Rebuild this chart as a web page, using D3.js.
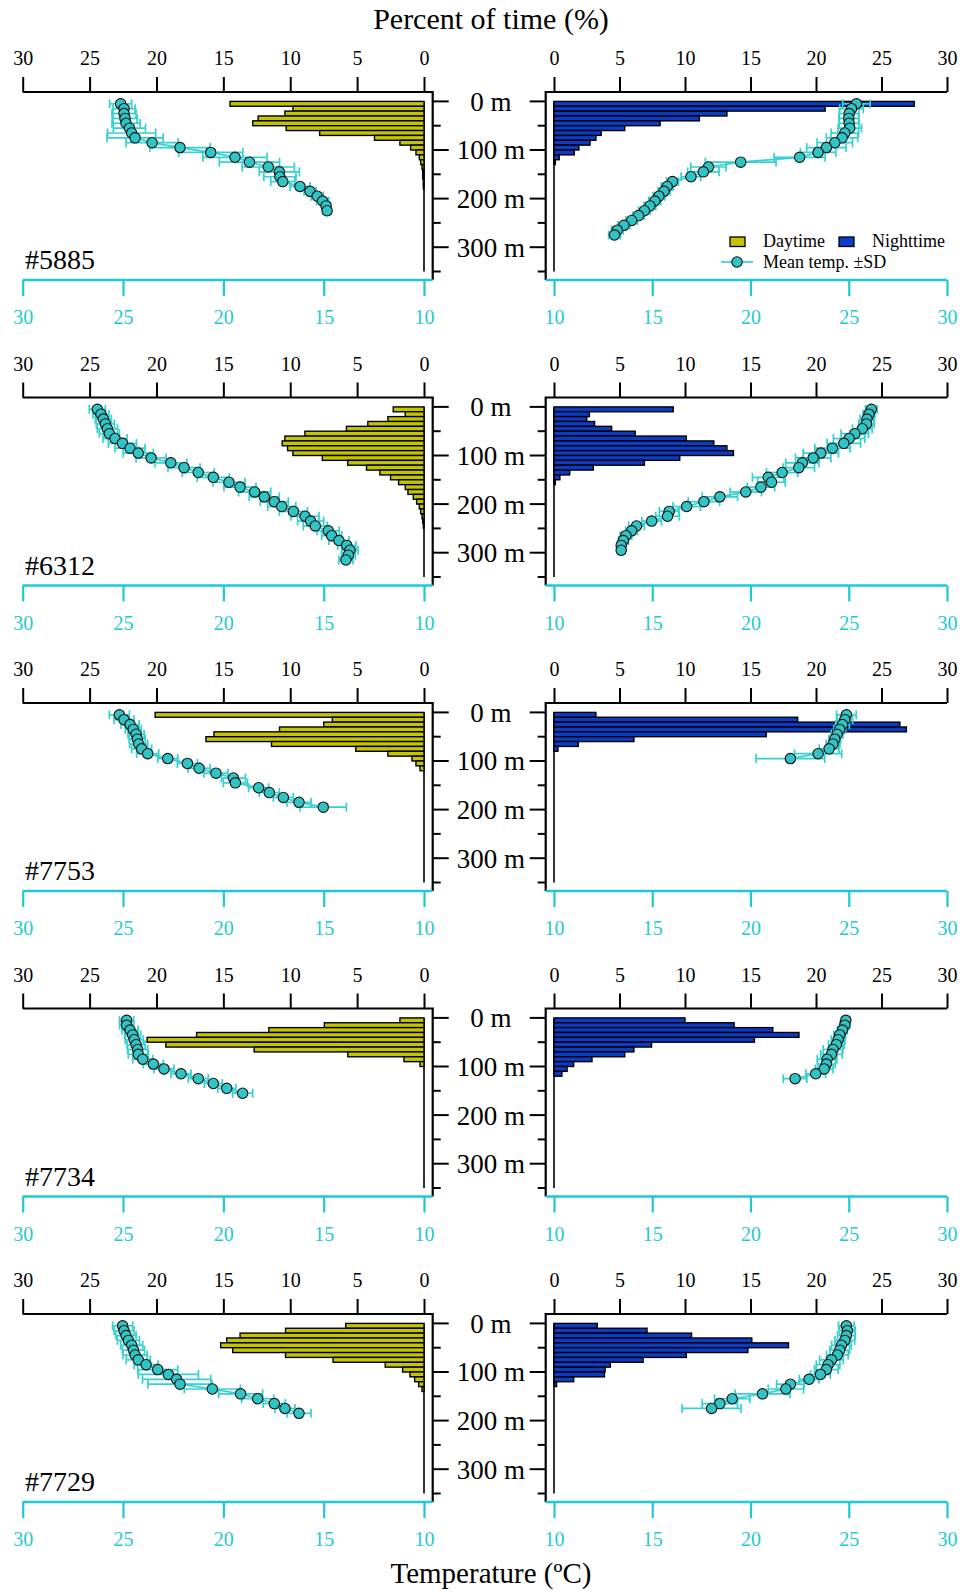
<!DOCTYPE html>
<html>
<head>
<meta charset="utf-8">
<script src="https://cdn.jsdelivr.net/npm/d3@7"></script>
<style>
  body { margin: 0; background: #fff; }
  text { font-family: "Liberation Serif", "Times New Roman", serif; }
</style>
</head>
<body>
<div id="chart"></div>
<script>
// tick values
var pctTicks = [0, 5, 10, 15, 20, 25, 30];
var tempTicks = [10, 15, 20, 25, 30];
var depthTicks = [0, 50, 100, 150, 200, 250, 300, 350];
var depthLabels = [0, 100, 200, 300];

// tag ids, one per row
var tags = ["#5885", "#6312", "#7753", "#7734", "#7729"];

// top of each 10 m depth bin, and the depth of each temperature point
var binTops = [0, 10, 20, 30, 40, 50, 60, 70, 80, 90, 100, 110, 120, 130, 140, 150, 160, 170, 180, 190, 200, 210, 220, 230, 240, 250, 260, 270, 280, 290, 300, 310, 320, 330, 340];
var pointDepths = [5, 15, 25, 35, 45, 55, 65, 75, 85, 95, 105, 115, 125, 135, 145, 155, 165, 175, 185, 195, 205, 215, 225, 235, 245, 255, 265, 275, 285, 295, 305, 315];

// percent of time per depth bin
var day5885 = [14.5, 9.8, 10.4, 12.4, 12.8, 10.3, 7.8, 3.7, 1.8, 1.0, 0.6, 0.35, 0.25, 0.15, 0.1, 0.1, 0.05, 0.05];
var night5885 = [27.5, 20.7, 13.2, 11.1, 8.1, 5.4, 3.6, 3.2, 2.75, 1.9, 1.55, 0.4, 0.1];
var day6312 = [2.3, 1.4, 2.7, 4.2, 5.8, 8.9, 10.4, 10.6, 10.2, 9.8, 7.6, 5.7, 4.3, 3.3, 2.5, 1.9, 1.4, 1.2, 0.8, 0.55, 0.35, 0.25, 0.15, 0.1, 0.05];
var night6312 = [9.1, 2.7, 2.5, 3.1, 4.4, 6.2, 10.1, 12.2, 13.2, 13.7, 9.6, 6.9, 3.0, 1.2, 0.45, 0.1];
var day7753 = [20.1, 6.85, 7.5, 10.8, 15.7, 16.3, 11.4, 5.1, 2.7, 0.9, 0.6, 0.3];
var night7753 = [3.2, 18.6, 26.4, 26.9, 16.2, 6.1, 1.85, 0.3];
var day7734 = [1.8, 7.45, 11.6, 17.0, 20.7, 19.3, 12.7, 5.7, 1.5, 0.3];
var night7734 = [10.0, 13.75, 16.7, 18.7, 15.3, 7.45, 6.1, 5.4, 2.9, 1.5, 1.0, 0.6];
var day7729 = [5.85, 10.35, 13.75, 14.75, 15.2, 14.3, 10.35, 6.8, 2.9, 1.6, 1.05, 0.7, 0.4, 0.15];
var night7729 = [3.3, 7.1, 10.5, 15.1, 17.9, 14.8, 10.1, 6.8, 4.3, 3.9, 3.85, 1.5, 0.2];

// mean temperature per depth point and its SD
var dayTemp5885 = [25.12, 24.95, 24.95, 24.9, 24.85, 24.68, 24.57, 24.4, 23.55, 22.16, 20.63, 19.42, 18.7, 17.76, 17.21, 17.18, 17.04, 16.18, 15.68, 15.32, 15.05, 14.88, 14.83];
var daySd5885 = [0.55, 0.55, 0.6, 0.6, 0.7, 0.8, 1.2, 1.4, 1.3, 1.5, 1.6, 1.6, 1.5, 1.3, 1.0, 0.8, 0.6, 0.5, 0.3, 0.3, 0.3, 0.2, 0.2];
var nightTemp5885 = [25.39, 25.14, 25.02, 25.0, 25.02, 25.05, 24.8, 24.66, 24.29, 23.86, 23.44, 22.5, 19.5, 17.86, 17.6, 16.97, 16.03, 15.76, 15.6, 15.34, 15.13, 14.88, 14.6, 14.3, 13.95, 13.56, 13.22, 13.08];
var nightSd5885 = [0.7, 0.6, 0.5, 0.5, 0.5, 0.6, 0.7, 0.8, 0.9, 1.0, 0.9, 1.3, 1.8, 0.9, 0.8, 0.5, 0.3, 0.3, 0.3, 0.3, 0.3, 0.3, 0.3, 0.3, 0.3, 0.3, 0.3, 0.3];
var dayTemp6312 = [26.28, 26.1, 25.98, 25.88, 25.78, 25.68, 25.4, 25.03, 24.65, 24.24, 23.6, 22.62, 21.96, 21.25, 20.5, 19.72, 19.17, 18.44, 17.96, 17.46, 17.09, 16.51, 15.93, 15.65, 15.42, 14.77, 14.6, 14.24, 13.85, 13.69, 13.77, 13.89];
var daySd6312 = [0.4, 0.4, 0.4, 0.45, 0.5, 0.5, 0.6, 0.7, 0.75, 0.75, 0.75, 0.8, 0.8, 0.8, 0.8, 0.8, 0.8, 0.8, 0.75, 0.7, 0.7, 0.7, 0.7, 0.65, 0.6, 0.55, 0.5, 0.5, 0.45, 0.4, 0.35, 0.35];
var nightTemp6312 = [26.15, 26.03, 25.93, 25.9, 25.69, 25.31, 25.02, 24.75, 24.17, 23.58, 23.19, 22.64, 22.46, 21.61, 20.9, 21.07, 20.53, 19.76, 18.44, 17.63, 16.75, 15.86, 15.78, 14.97, 14.2, 13.95, 13.66, 13.53, 13.42, 13.42];
var nightSd6312 = [0.3, 0.3, 0.35, 0.4, 0.5, 0.7, 0.8, 0.85, 0.9, 0.9, 0.9, 0.85, 0.8, 0.8, 0.8, 0.7, 0.7, 0.8, 0.9, 0.8, 0.7, 0.5, 0.6, 0.5, 0.4, 0.3, 0.3, 0.25, 0.2, 0.2];
var dayTemp7753 = [25.18, 24.95, 24.65, 24.49, 24.35, 24.29, 24.22, 24.07, 23.77, 22.77, 21.79, 21.21, 20.37, 19.5, 19.4, 18.24, 17.71, 17.01, 16.23, 15.02];
var daySd7753 = [0.5, 0.5, 0.45, 0.4, 0.4, 0.4, 0.45, 0.5, 0.55, 0.5, 0.5, 0.55, 0.6, 0.6, 0.6, 0.5, 0.5, 0.5, 0.6, 1.15];
var nightTemp7753 = [24.88, 24.8, 24.68, 24.54, 24.41, 24.29, 24.2, 24.0, 23.44, 22.03];
var nightSd7753 = [0.5, 0.4, 0.35, 0.3, 0.3, 0.3, 0.35, 0.5, 1.2, 1.75];
var dayTemp7734 = [24.82, 24.82, 24.65, 24.52, 24.44, 24.35, 24.27, 24.24, 24.02, 23.49, 22.96, 22.11, 21.25, 20.5, 19.83, 19.04];
var daySd7734 = [0.35, 0.35, 0.4, 0.4, 0.45, 0.45, 0.5, 0.5, 0.5, 0.5, 0.5, 0.5, 0.5, 0.45, 0.45, 0.5];
var nightTemp7734 = [24.85, 24.8, 24.68, 24.54, 24.46, 24.37, 24.2, 24.12, 23.9, 23.86, 23.75, 23.32, 22.27];
var nightSd7734 = [0.2, 0.25, 0.25, 0.3, 0.35, 0.4, 0.5, 0.55, 0.5, 0.45, 0.45, 0.5, 0.6];
var dayTemp7729 = [25.02, 24.95, 24.85, 24.73, 24.57, 24.48, 24.4, 24.24, 23.85, 23.27, 22.74, 22.33, 22.16, 20.55, 19.14, 18.29, 17.46, 16.93, 16.23];
var daySd7729 = [0.5, 0.5, 0.5, 0.55, 0.55, 0.55, 0.6, 0.6, 0.6, 1.0, 1.5, 1.7, 1.6, 1.4, 1.1, 0.8, 0.55, 0.5, 0.6];
var nightTemp7729 = [24.88, 24.93, 24.88, 24.8, 24.63, 24.54, 24.42, 24.12, 23.95, 23.86, 23.56, 22.98, 22.03, 21.8, 20.61, 19.07, 18.44, 18.02];
var nightSd7729 = [0.4, 0.4, 0.45, 0.5, 0.5, 0.5, 0.55, 0.6, 0.6, 0.6, 0.5, 0.5, 0.7, 0.9, 1.4, 0.9, 0.9, 1.5];

// group the arrays per row
var dayBars = [day5885, day6312, day7753, day7734, day7729];
var nightBars = [night5885, night6312, night7753, night7734, night7729];
var dayTemps = [dayTemp5885, dayTemp6312, dayTemp7753, dayTemp7734, dayTemp7729];
var daySds = [daySd5885, daySd6312, daySd7753, daySd7734, daySd7729];
var nightTemps = [nightTemp5885, nightTemp6312, nightTemp7753, nightTemp7734, nightTemp7729];
var nightSds = [nightSd5885, nightSd6312, nightSd7753, nightSd7734, nightSd7729];

// layout
var w = 963;
var h = 1596;
var rowTop = 92;
var rowStep = 305.5;
var frameH = 188;
var leftRange = [424, 22.7];   // value 0 % / 10 C  ->  30
var rightRange = [554, 947];
var leftFrameX = 432.7;
var rightFrameX = 545.7;
var midX = 491;

// colors
var dayColor = "#c4c400";
var nightColor = "#0b3cc6";
var cyan = "#1fc9d2";
var pointFill = "#30c4c4";
var errColor = "#36d0d0";

var svg = d3.select("#chart")
    .append("svg")
    .attr("width", w)
    .attr("height", h);

// titles
svg.append("text")
    .attr("x", midX)
    .attr("y", 29)
    .attr("text-anchor", "middle")
    .style("font-size", "30px")
    .text("Percent of time (%)");

svg.append("text")
    .attr("x", midX)
    .attr("y", 1583)
    .attr("text-anchor", "middle")
    .style("font-size", "29px")
    .text("Temperature (ºC)");

tags.forEach(function(tag, r) {
    drawRow(r);
});

drawLegend(rowTop);

function drawRow(r) {
    var top = rowTop + r * rowStep;
    var g = svg.append("g");

    var y = d3.scaleLinear().domain([0, 350]).range([top + 9.4, top + 179.5]);

    var panels = [
        { side: "left", range: leftRange, bars: dayBars[r], temps: dayTemps[r], sds: daySds[r], color: dayColor, frameX: leftFrameX },
        { side: "right", range: rightRange, bars: nightBars[r], temps: nightTemps[r], sds: nightSds[r], color: nightColor, frameX: rightFrameX }
    ];

    panels.forEach(function(p) {
        var pct = d3.scaleLinear().domain([0, 30]).range(p.range);
        var temp = d3.scaleLinear().domain([10, 30]).range(p.range);
        var farX = p.range[1];

        // percent axis on top
        var topAxis = g.append("g")
            .attr("transform", `translate(0,${top})`)
            .call(d3.axisTop(pct).tickValues(pctTicks).tickSize(15).tickSizeOuter(0).tickPadding(12));
        topAxis.select(".domain").remove();
        topAxis.selectAll("line").attr("stroke", "#000").attr("stroke-width", 2);
        topAxis.selectAll("text")
            .attr("fill", "#000")
            .style("font-size", "20px")
            .style("font-family", "'Liberation Serif', serif");

        // temperature axis at bottom
        var botAxis = g.append("g")
            .attr("transform", `translate(0,${top + frameH})`)
            .call(d3.axisBottom(temp).tickValues(tempTicks).tickSize(16).tickSizeOuter(0).tickPadding(14));
        botAxis.select(".domain").remove();
        botAxis.selectAll("line").attr("stroke", cyan).attr("stroke-width", 2.2);
        botAxis.selectAll("text")
            .attr("fill", cyan)
            .style("font-size", "20px")
            .style("font-family", "'Liberation Serif', serif");

        // frame: black top and inner side, cyan bottom
        g.append("path")
            .attr("d", `M${farX},${top}H${p.frameX}V${top + frameH}`)
            .attr("fill", "none")
            .attr("stroke", "#000")
            .attr("stroke-width", 2.2);
        g.append("line")
            .attr("x1", farX).attr("x2", p.frameX)
            .attr("y1", top + frameH).attr("y2", top + frameH)
            .attr("stroke", cyan)
            .attr("stroke-width", 2.6);

        // depth ticks on the inner frame side
        var dir = p.side === "left" ? 1 : -1;
        g.selectAll(null)
            .data(depthTicks)
            .enter()
            .append("line")
            .attr("x1", p.frameX)
            .attr("x2", d => p.frameX + dir * (d % 100 === 0 ? 16 : 8))
            .attr("y1", d => y(d))
            .attr("y2", d => y(d))
            .attr("stroke", "#000")
            .attr("stroke-width", 2);

        // zero line of the histogram
        g.append("line")
            .attr("x1", pct(0)).attr("x2", pct(0))
            .attr("y1", y(0)).attr("y2", y(350))
            .attr("stroke", "#000")
            .attr("stroke-width", 1.6);

        // histogram bars
        g.selectAll(null)
            .data(p.bars)
            .enter()
            .append("rect")
            .attr("x", d => Math.min(pct(0), pct(d)))
            .attr("width", d => Math.abs(pct(d) - pct(0)))
            .attr("y", (d, i) => y(binTops[i]))
            .attr("height", (d, i) => y(binTops[i] + 10) - y(binTops[i]))
            .attr("fill", p.color)
            .attr("stroke", "#000")
            .attr("stroke-width", 1.4);

        // temperature profile
        var pts = p.temps.map((t, i) => ({ t: t, sd: p.sds[i], d: pointDepths[i] }));

        var err = g.append("g").attr("stroke", errColor).attr("stroke-width", 1.7);
        err.selectAll(null)
            .data(pts)
            .enter()
            .append("line")
            .attr("x1", d => temp(d.t - d.sd))
            .attr("x2", d => temp(d.t + d.sd))
            .attr("y1", d => y(d.d))
            .attr("y2", d => y(d.d));
        [-1, 1].forEach(function(s) {
            err.selectAll(null)
                .data(pts)
                .enter()
                .append("line")
                .attr("x1", d => temp(d.t + s * d.sd))
                .attr("x2", d => temp(d.t + s * d.sd))
                .attr("y1", d => y(d.d) - 4.5)
                .attr("y2", d => y(d.d) + 4.5);
        });

        g.append("path")
            .datum(pts)
            .attr("fill", "none")
            .attr("stroke", errColor)
            .attr("stroke-width", 1.7)
            .attr("d", d3.line().x(d => temp(d.t)).y(d => y(d.d)));

        g.selectAll(null)
            .data(pts)
            .enter()
            .append("circle")
            .attr("cx", d => temp(d.t))
            .attr("cy", d => y(d.d))
            .attr("r", 5.2)
            .attr("fill", pointFill)
            .attr("stroke", "#111")
            .attr("stroke-width", 1.1);
    });

    // depth labels between the panels
    g.selectAll(null)
        .data(depthLabels)
        .enter()
        .append("text")
        .attr("x", midX)
        .attr("y", d => y(d))
        .attr("dy", "0.35em")
        .attr("text-anchor", "middle")
        .style("font-size", "27px")
        .text(d => d + " m");

    // tag id
    g.append("text")
        .attr("x", 25)
        .attr("y", top + 177)
        .style("font-size", "28px")
        .text(tags[r]);
}

function drawLegend(top) {
    var lg = svg.append("g").style("font-size", "18px");

    lg.append("rect")
        .attr("x", 730).attr("y", top + 145)
        .attr("width", 15).attr("height", 9.5)
        .attr("fill", dayColor).attr("stroke", "#000").attr("stroke-width", 1.3);
    lg.append("text").attr("x", 763).attr("y", top + 154.5).text("Daytime");

    lg.append("rect")
        .attr("x", 839).attr("y", top + 145)
        .attr("width", 15).attr("height", 9.5)
        .attr("fill", nightColor).attr("stroke", "#000").attr("stroke-width", 1.3);
    lg.append("text").attr("x", 872).attr("y", top + 154.5).text("Nighttime");

    lg.append("line")
        .attr("x1", 721).attr("x2", 753)
        .attr("y1", top + 170).attr("y2", top + 170)
        .attr("stroke", errColor).attr("stroke-width", 1.7);
    lg.append("circle")
        .attr("cx", 737).attr("cy", top + 170).attr("r", 5.2)
        .attr("fill", pointFill).attr("stroke", "#111").attr("stroke-width", 1.1);
    lg.append("text").attr("x", 763).attr("y", top + 176).text("Mean temp. ±SD");
}
</script>
</body>
</html>
